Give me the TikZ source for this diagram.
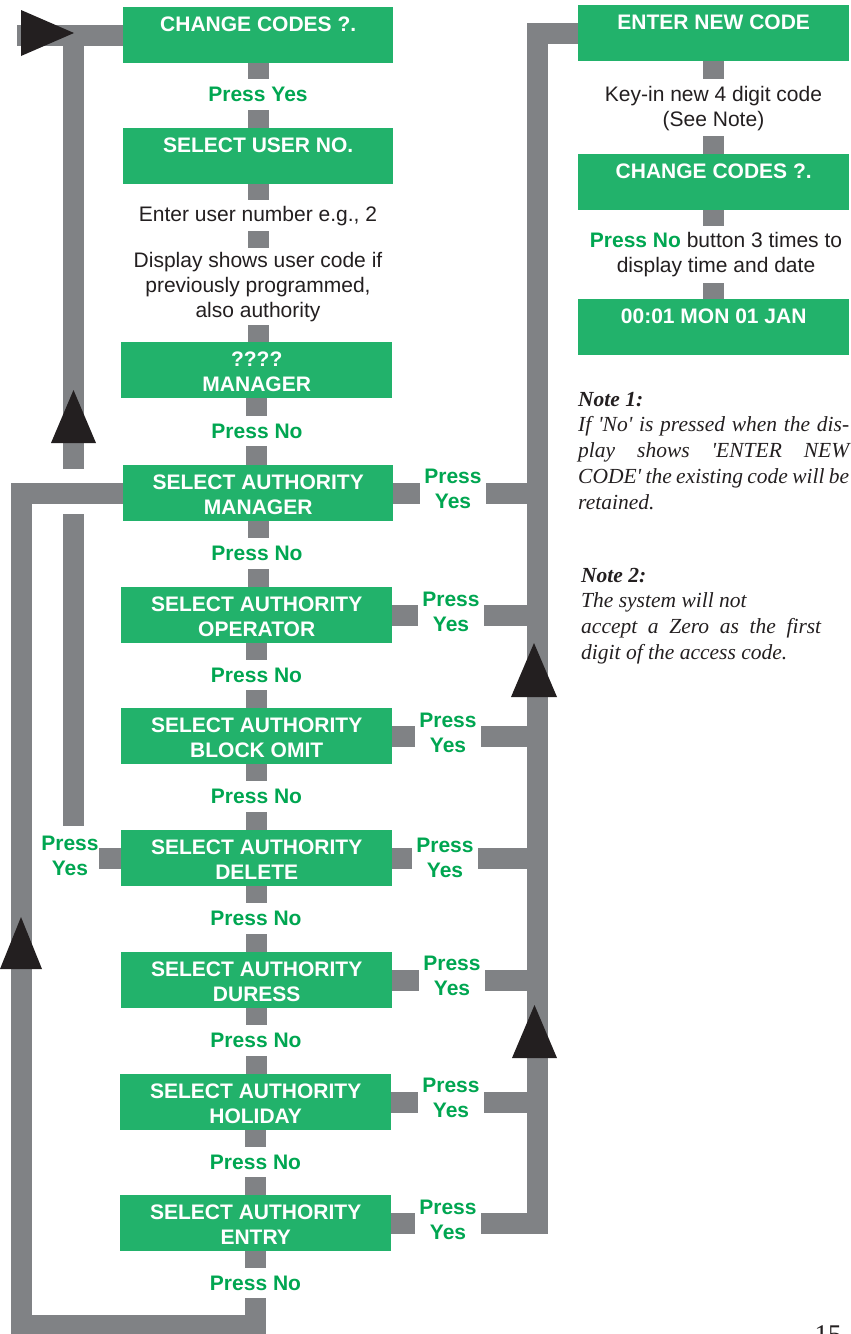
\documentclass[tikz,border=0pt]{standalone}
\usepackage{fontspec}
\setmainfont{Liberation Sans}
\newfontfamily\serifnote{Liberation Serif}
\definecolor{boxg}{RGB}{34,178,107}
\definecolor{txtg}{RGB}{0,166,81}
\definecolor{barg}{RGB}{128,130,133}
\definecolor{ink}{RGB}{35,31,32}
\pgfdeclarelayer{bg}
\pgfsetlayers{bg,main}
\newcommand\bigf{\fontsize{21}{25}\selectfont}
\newcommand\ml[4]{\parbox[t]{#1}{\centering\rule{0pt}{#2}#4\rule[-#3]{0pt}{#3}}}
\tikzset{
  box/.style={fill=boxg, text=white, inner sep=0pt, anchor=north west, font=\bigf\bfseries},
  plab/.style={text=txtg, font=\bigf\bfseries, fill=white, inner xsep=4pt, inner ysep=0pt, text height=22.5pt, text depth=8pt, anchor=base},
  ylab/.style={text=txtg, font=\bigf\bfseries, fill=white, align=center, inner xsep=4pt, inner ysep=2pt},
  txt/.style={text=ink, font=\bigf, fill=white, inner sep=0pt, anchor=north},
  bar/.style={draw=barg, line width=21pt},
  tri/.style={fill=ink},
  notetxt/.style={text=ink, inner sep=0pt, anchor=north west, font=\serifnote\itshape\fontsize{21.5}{25.75}\selectfont}
}
\begin{document}
\begin{tikzpicture}[x=1pt,y=-1pt]
\useasboundingbox (0,0) rectangle (851,1334);
\clip (0,0) rectangle (851,1334);
% left column boxes
\node[box] (cc1) at (123,7) {\ml{270pt}{24.5pt}{6.5pt}{CHANGE CODES ?.\\}};
\node[box] (sun) at (123,128) {\ml{270pt}{24.5pt}{6.5pt}{SELECT USER NO.\\}};
\node[box] (mq) at (121,342) {\ml{271pt}{24.5pt}{6.5pt}{????\\MANAGER}};
\node[box] (am) at (123,465) {\ml{270pt}{24.5pt}{6.5pt}{SELECT AUTHORITY\\MANAGER}};
\node[box] (ao) at (121,587) {\ml{271pt}{24.5pt}{6.5pt}{SELECT AUTHORITY\\OPERATOR}};
\node[box] (ab) at (121,708) {\ml{271pt}{24.5pt}{6.5pt}{SELECT AUTHORITY\\BLOCK OMIT}};
\node[box] (ad) at (121,830) {\ml{271pt}{24.5pt}{6.5pt}{SELECT AUTHORITY\\DELETE}};
\node[box] (adu) at (121,952) {\ml{271pt}{24.5pt}{6.5pt}{SELECT AUTHORITY\\DURESS}};
\node[box] (ah) at (120,1074) {\ml{271pt}{24.5pt}{6.5pt}{SELECT AUTHORITY\\HOLIDAY}};
\node[box] (ae) at (120,1195) {\ml{271pt}{24.5pt}{6.5pt}{SELECT AUTHORITY\\ENTRY}};
% right column boxes
\node[box] (enc) at (578,5) {\ml{271pt}{24.5pt}{6.5pt}{ENTER NEW CODE\\}};
\node[box] (cc2) at (578,154) {\ml{271pt}{24.5pt}{6.5pt}{CHANGE CODES ?.\\}};
\node[box] (tm) at (578,299) {\ml{271pt}{24.5pt}{6.5pt}{00:01 MON 01 JAN\\}};
% coordinates for free ends
\coordinate (bl) at (21,1325);
\coordinate (tlx) at (17,33);
\coordinate (lvA) at (73.5,469);
\coordinate (lvB) at (73.5,514);
\coordinate (rv) at (537,0);
\begin{pgfonlayer}{bg}
\draw[bar] (cc1.south) -- (cc1.south |- sun.north);
\draw[bar] (sun.south) -- (sun.south |- mq.north);
\draw[bar] (mq.south) -- (mq.south |- am.north);
\draw[bar] (am.south) -- (am.south |- ao.north);
\draw[bar] (ao.south) -- (ao.south |- ab.north);
\draw[bar] (ab.south) -- (ab.south |- ad.north);
\draw[bar] (ad.south) -- (ad.south |- adu.north);
\draw[bar] (adu.south) -- (adu.south |- ah.north);
\draw[bar] (ah.south) -- (ah.south |- ae.north);
\draw[bar] (ae.south) |- (bl) |- (am.west);
\draw[bar] (tlx |- cc1.west) -- (cc1.west);
\draw[bar] (lvA) -- (lvA |- cc1.west);
\draw[bar] (lvB) |- (ad.west);
\draw[bar] (ae.east) -- (ae.east -| rv) -- (rv |- enc.west) -- (enc.west);
\foreach \n in {am,ao,ab,ad,adu,ah} \draw[bar] (\n.east) -- (\n.east -| rv);
\draw[bar] (enc.south) -- (enc.south |- cc2.north);
\draw[bar] (cc2.south) -- (cc2.south |- tm.north);
\end{pgfonlayer}
% main column labels
\node[plab] (l1) at (258,101.75) {Press Yes};
\node[txt] (t1) at (258,200) {\ml{260pt}{21pt}{10pt}{Enter user number e.g., 2}};
\node[txt] (t2) at (258,248) {\ml{280pt}{19pt}{8pt}{Display shows user code if\\previously programmed,\\also authority}};
\node[plab] (l2) at (257,438) {Press No};
\node[plab] (l3) at (257,560.5) {Press No};
\node[plab] (l4) at (256.5,682) {Press No};
\node[plab] (l5) at (256.5,803.5) {Press No};
\node[plab] (l6) at (256,925.5) {Press No};
\node[plab] (l7) at (256,1047.5) {Press No};
\node[plab] (l8) at (255.5,1169) {Press No};
\node[plab] (l9) at (255.5,1290) {Press No};
% right column labels
\node[txt] (t3) at (713.5,79) {\ml{260pt}{22.7pt}{9.3pt}{Key-in new 4 digit code\\(See Note)}};
\node[txt] (t4) at (716,226) {\ml{275pt}{21pt}{11pt}{\textcolor{txtg}{\bfseries Press No} button 3 times to\\display time and date}};
% Press Yes side labels
\node[ylab] (y1) at (453,489) {Press\\Yes};
\node[ylab] (y2) at (451,612) {Press\\Yes};
\node[ylab] (y3) at (448,733) {Press\\Yes};
\node[ylab] (y4) at (445,857.5) {Press\\Yes};
\node[ylab] (y5) at (452,976) {Press\\Yes};
\node[ylab] (y6) at (451,1097.5) {Press\\Yes};
\node[ylab] (y7) at (448,1220) {Press\\Yes};
\node[ylab, inner xsep=0pt, inner ysep=10pt] (y8) at (70,855.5) {Press\\Yes};
% arrowheads
\fill[tri] (21,10) -- (74,33) -- (21,56) -- cycle;
\fill[tri] (73.5,390) -- (96,443) -- (51,443) -- cycle;
\fill[tri] (21,917) -- (42,969) -- (0,969) -- cycle;
\fill[tri] (534,643) -- (557,697) -- (511,697) -- cycle;
\fill[tri] (534.5,1005) -- (557,1058) -- (512,1058) -- cycle;
% notes
\node[notetxt] (n1) at (578,387) {\parbox[t]{271pt}{\rule{0pt}{19pt}\textbf{Note 1:}\\
If \textquotesingle No\textquotesingle\ is pressed when the dis-\linebreak
play shows \textquotesingle ENTER NEW\linebreak
CODE\textquotesingle\ the existing code will be\linebreak
retained.}};
\node[notetxt] (n2) at (581,563) {\parbox[t]{240pt}{\rule{0pt}{19pt}\textbf{Note 2:}\\
The system will not\\
accept a Zero as the first\linebreak
digit of the access code.}};
% page number
\node[anchor=base, inner sep=0pt, text=ink, font=\serifnote\fontsize{27}{30}\selectfont] (pg) at (828,1343) {15};
\end{tikzpicture}
\end{document}
